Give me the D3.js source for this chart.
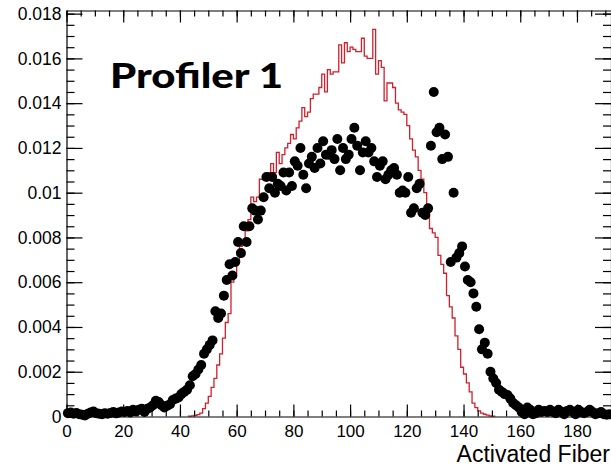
<!DOCTYPE html>
<html><head><meta charset="utf-8">
<script src="https://cdn.jsdelivr.net/npm/d3@7"></script>
<style>html,body{margin:0;padding:0;background:#fff;overflow:hidden}</style>
</head><body>
<svg id="chart" width="611" height="465"></svg>
<script>
// ---- data ----
const simValues = [
0,0,0,0,0,0,0,0,0,0, 0,0,0,0,0,0,0,0,0,0, 0,0,0,0,0,0,0,0,0,0, 0,0,0,0,0,0,0,0,0,0, 0,0,0,
0.00002,0.00003,0.00005,0.00008,0.00015,0.00035,0.0006,0.0009,0.0013,0.0017,
0.0023,0.0028,0.0035,0.0042,0.0046,0.0060,0.0064,0.0069,0.0076,0.0078,
0.0083,0.0088,0.0098,0.0096,0.0098,0.0106,0.0106,0.0108,0.0109,0.0113,
0.0109,0.0118,0.0113,0.0117,0.0120,0.0122,0.0126,0.0124,0.0129,0.0132,
0.0138,0.0134,0.0136,0.0142,0.0144,0.0144,0.0147,0.0153,0.0145,0.0155,
0.0153,0.0154,0.0154,0.0166,0.0158,0.0167,0.0163,0.0165,0.0164,0.0163,
0.0163,0.0169,0.0161,0.0160,0.0160,0.0173,0.0153,0.0159,0.0156,0.0141,
0.0149,0.0149,0.0147,0.0140,0.0137,0.0136,0.0135,0.0130,0.0124,0.0119,
0.0116,0.0110,0.0106,0.0100,0.0094,0.0084,0.0082,0.0080,0.0072,0.0068,
0.0064,0.0054,0.0049,0.0044,0.0036,0.0030,0.0022,0.0019,0.0015,0.0011,
0.0006,0.0004,0.00025,0.00015,0.0001,0.00006,0.00003,0.00002,
0,0,0,0,0,0,0,0,0,0, 0,0,0,0,0,0,0,0,0,0, 0,0,0,0,0,0,0,0,0,0, 0,0,0,0,0,0,0,0,0,0, 0
];
const dataValues = [
0.00015,0.00018,0.00012,0.00016,0.0001,0.00008,0.00005,0.00012,0.00018,0.00022,
0.00015,0.00012,0.0001,0.00014,0.00012,0.00016,0.0002,0.00014,0.00018,0.00022,
0.0002,0.00025,0.00018,0.0003,0.00022,0.0003,0.00035,0.0002,0.00035,0.0004,
0.0005,0.0007,0.00065,0.0005,0.0004,0.00048,0.00055,0.00074,0.0008,0.00085,
0.001,0.0011,0.0012,0.0014,0.0018,0.0019,0.0021,0.0023,0.0028,0.0030,
0.0032,0.0034,0.0047,0.0044,0.0046,0.0054,0.0061,0.0068,0.0063,0.0069,
0.0078,0.0073,0.0085,0.0078,0.0085,0.0093,0.0092,0.0088,0.0092,0.0098,
0.0107,0.0102,0.0107,0.0100,0.0104,0.0103,0.0109,0.0101,0.0109,0.0103,
0.0114,0.0112,0.0120,0.0108,0.0102,0.0113,0.0116,0.0111,0.0120,0.0113,
0.0123,0.0117,0.0117,0.0119,0.0115,0.0124,0.0110,0.0120,0.0115,0.0117,
0.0124,0.0129,0.0121,0.0110,0.0118,0.0123,0.0118,0.0120,0.0114,0.0107,
0.0112,0.0114,0.0106,0.0108,0.0110,0.0111,0.0108,0.0100,0.0101,0.0100,
0.0107,0.0091,0.0093,0.0102,0.0104,0.0091,0.0090,0.0093,0.0121,0.0145,
0.0127,0.0129,0.0115,0.0126,0.0116,0.0069,0.0100,0.0071,0.0073,0.0076,
0.0067,0.0061,0.0060,0.0055,0.0049,0.0039,0.0030,0.0033,0.0028,0.0020,
0.0017,0.0015,0.0012,0.0011,0.0010,0.00096,0.0008,0.0006,0.0005,0.0004,
0.0002,0.0001,0.0004,0.0003,0.0001,0.00015,0.0003,0.0002,0.00025,0.0002,
0.0003,0.0002,0.00015,0.0003,0.0002,0.0001,0.00025,0.0003,0.0002,0.0001,
0.0003,0.0002,0.00015,0.0002,0.0003,0.0002,0.0001,0.00015,0.0002,0.0001,
0.00008,0.0001
];
const xTickValues = [0,20,40,60,80,100,120,140,160,180];
const xTickLabels = ["0","20","40","60","80","100","120","140","160","180"];
const yTickValues = [0,0.002,0.004,0.006,0.008,0.01,0.012,0.014,0.016,0.018];
const yTickLabels = ["0","0.002","0.004","0.006","0.008","0.01","0.012","0.014","0.016","0.018"];
const xAxisTitle = "Activated Fiber";
const chartTitle = "Profiler 1";

// ---- drawing ----
const svg = d3.select("#chart");
const x = d3.scaleLinear().domain([0,192]).range([66.5,611]);
const y = d3.scaleLinear().domain([0,0.01814]).range([416.5,10.5]);
const bins = d3.range(dataValues.length);

// histogram step outline
const nz = bins.filter(i => simValues[i] > 0);
const first = nz[0], last = nz[nz.length-1];
const pts = [[first, 0]];
for (let i = first; i <= last; i++) { pts.push([i, simValues[i]]); pts.push([i+1, simValues[i]]); }
pts.push([last+1, 0]);
svg.append("path")
  .attr("d", d3.line().x(d => x(d[0])).y(d => y(d[1]))(pts))
  .attr("fill","none").attr("stroke","#d0202c").attr("stroke-width",1.3);

// points
svg.append("g").selectAll("circle").data(bins).join("circle")
  .attr("cx", i => x(i+0.5)).attr("cy", i => y(dataValues[i]))
  .attr("r", 5).attr("fill","#000");

// axes
const font = "'Liberation Sans', Arial, Helvetica, sans-serif";
function styleAxis(g){ g.selectAll("path,line").attr("stroke","#000").attr("stroke-width",1.2); }

const minorX = d3.range(0,193,5);
const minorY = d3.range(0,0.01801,0.0005);

// bottom
svg.append("g").attr("transform","translate(0,416.5)")
  .call(d3.axisBottom(x).tickValues(minorX).tickSize(-6).tickSizeOuter(0).tickFormat(""))
  .call(styleAxis);
const bx = svg.append("g").attr("transform","translate(0,416.5)")
  .call(d3.axisBottom(x).tickValues(xTickValues).tickSize(-12).tickSizeOuter(0).tickPadding(8.5)
    .tickFormat((d,i)=>xTickLabels[i]))
  .call(styleAxis);
bx.select(".domain").remove();
bx.selectAll("text").attr("font-family",font).attr("font-size",17).attr("fill","#000");

// top
svg.append("g").attr("transform","translate(0,10.5)")
  .call(d3.axisTop(x).tickValues(minorX).tickSize(-6).tickSizeOuter(0).tickFormat(""))
  .call(styleAxis);
const tx = svg.append("g").attr("transform","translate(0,10.5)")
  .call(d3.axisTop(x).tickValues(xTickValues).tickSize(-12).tickSizeOuter(0).tickFormat(""))
  .call(styleAxis);
tx.select(".domain").remove();

// left
svg.append("g").attr("transform","translate(66.5,0)")
  .call(d3.axisLeft(y).tickValues(minorY).tickSize(-8).tickSizeOuter(0).tickFormat(""))
  .call(styleAxis);
const ly = svg.append("g").attr("transform","translate(66.5,0)")
  .call(d3.axisLeft(y).tickValues(yTickValues).tickSize(-16).tickSizeOuter(0).tickPadding(5)
    .tickFormat((d,i)=>yTickLabels[i]))
  .call(styleAxis);
ly.select(".domain").remove();
ly.selectAll("text").attr("font-family",font).attr("font-size",17.5).attr("fill","#000");

// right
svg.append("g").attr("transform","translate(611,0)")
  .call(d3.axisRight(y).tickValues(minorY).tickSize(-8).tickSizeOuter(0).tickFormat(""))
  .call(styleAxis);
const ry = svg.append("g").attr("transform","translate(611,0)")
  .call(d3.axisRight(y).tickValues(yTickValues).tickSize(-16).tickSizeOuter(0).tickFormat(""))
  .call(styleAxis);
ry.select(".domain").remove();

// axis title
svg.append("text").attr("x",610).attr("y",461.5).attr("text-anchor","end")
  .attr("font-family",font).attr("font-size",23).attr("fill","#000").text(xAxisTitle);

// chart title
svg.append("text").attr("x",110).attr("y",88).attr("font-family","Lato, 'Open Sans', sans-serif")
  .attr("font-weight",900).attr("font-size",35).attr("fill","#000")
  .attr("textLength",173).attr("lengthAdjust","spacingAndGlyphs").text(chartTitle);
</script>
</body></html>
